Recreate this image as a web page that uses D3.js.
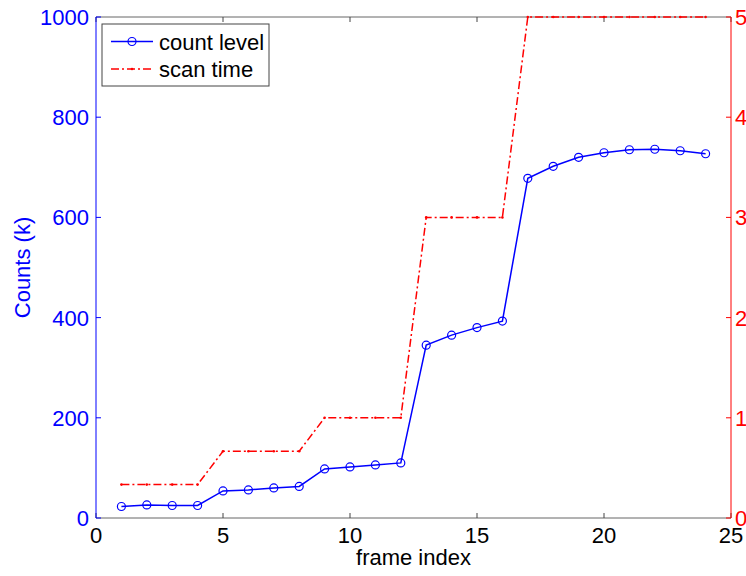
<!DOCTYPE html>
<html>
<head>
<meta charset="utf-8">
<script src="https://cdn.jsdelivr.net/npm/d3@7"></script>
<style>
  body { margin: 0; background: #fff; }
  text { font-family: "Liberation Sans", Arial, sans-serif; }
</style>
</head>
<body>
<script>
// data
var frames = d3.range(1, 25);
var countLevel = [23, 26, 25, 25, 54, 56, 60, 63, 98, 102, 106, 110,
                  345, 365, 380, 393, 678, 702, 720, 729, 735, 736, 733, 727];
var scanTime = [1/3, 1/3, 1/3, 1/3, 2/3, 2/3, 2/3, 2/3, 1, 1, 1, 1,
                3, 3, 3, 3, 5, 5, 5, 5, 5, 5, 5, 5];
var xTicks = [0, 5, 10, 15, 20, 25];
var leftTicks = [0, 200, 400, 600, 800, 1000];
var rightTicks = [0, 1, 2, 3, 4, 5];

var width = 746, height = 576;
var plotLeft = 96, plotRight = 731, plotTop = 17, plotBottom = 518;

var svg = d3.select("body")
    .append("svg")
    .attr("width", width)
    .attr("height", height)
    .attr("id", "drawhere");

var x = d3.scaleLinear().domain([0, 25]).range([plotLeft, plotRight]);
var yL = d3.scaleLinear().domain([0, 1000]).range([plotBottom, plotTop]);
var yR = d3.scaleLinear().domain([0, 5]).range([plotBottom, plotTop]);

// box lines (top + bottom in grey)
svg.append("line").attr("x1", plotLeft).attr("x2", plotRight).attr("y1", plotBottom).attr("y2", plotBottom)
    .style("stroke", "#666").style("stroke-width", 1);
svg.append("line").attr("x1", plotLeft).attr("x2", plotRight).attr("y1", plotTop).attr("y2", plotTop)
    .style("stroke", "#666").style("stroke-width", 1);

// x ticks, inward, bottom and top
xTicks.forEach(function(t) {
    svg.append("line").attr("x1", x(t)).attr("x2", x(t)).attr("y1", plotBottom).attr("y2", plotBottom - 5)
        .style("stroke", "#444");
    svg.append("line").attr("x1", x(t)).attr("x2", x(t)).attr("y1", plotTop).attr("y2", plotTop + 5)
        .style("stroke", "#444");
    svg.append("text").attr("x", x(t)).attr("y", plotBottom + 25)
        .attr("text-anchor", "middle").attr("font-size", "22px").attr("fill", "#000")
        .text(t);
});

// left axis
svg.append("line").attr("x1", plotLeft).attr("x2", plotLeft).attr("y1", plotTop).attr("y2", plotBottom)
    .style("stroke", "#0000ff").style("stroke-width", 1);
leftTicks.forEach(function(t) {
    svg.append("line").attr("x1", plotLeft).attr("x2", plotLeft + 5).attr("y1", yL(t)).attr("y2", yL(t))
        .style("stroke", "#0000ff");
    svg.append("text").attr("x", plotLeft - 7).attr("y", yL(t) + 8)
        .attr("text-anchor", "end").attr("font-size", "22px").attr("fill", "#0000ff")
        .text(t);
});

// right axis
svg.append("line").attr("x1", plotRight).attr("x2", plotRight).attr("y1", plotTop).attr("y2", plotBottom)
    .style("stroke", "#ff0000").style("stroke-width", 1);
rightTicks.forEach(function(t) {
    svg.append("line").attr("x1", plotRight).attr("x2", plotRight - 5).attr("y1", yR(t)).attr("y2", yR(t))
        .style("stroke", "#ff0000");
    svg.append("text").attr("x", plotRight + 4).attr("y", yR(t) + 8)
        .attr("text-anchor", "start").attr("font-size", "22px").attr("fill", "#ff0000")
        .text(t);
});

// axis titles
svg.append("text")
    .attr("transform", "translate(" + 30 + "," + ((plotTop + plotBottom) / 2) + ") rotate(-90)")
    .attr("text-anchor", "middle").attr("font-size", "22px").attr("fill", "#0000ff")
    .text("Counts (k)");
svg.append("text").attr("x", (plotLeft + plotRight) / 2).attr("y", 565)
    .attr("text-anchor", "middle").attr("font-size", "22px").attr("fill", "#000")
    .text("frame index");

// scan time (right axis)
var redLine = d3.line()
    .x(function(d, i) { return x(frames[i]); })
    .y(function(d) { return yR(d); });
svg.append("path")
    .datum(scanTime)
    .attr("d", redLine)
    .style("fill", "none")
    .style("stroke", "#ff0000")
    .style("stroke-width", 1.5)
    .style("stroke-dasharray", "8,3,2,3");
svg.selectAll(".reddot")
    .data(scanTime)
    .enter()
    .append("circle")
    .attr("class", "reddot")
    .attr("cx", function(d, i) { return x(frames[i]); })
    .attr("cy", function(d) { return yR(d); })
    .attr("r", 1.3)
    .style("fill", "#ff0000");

// count level (left axis)
var blueLine = d3.line()
    .x(function(d, i) { return x(frames[i]); })
    .y(function(d) { return yL(d); });
svg.append("path")
    .datum(countLevel)
    .attr("d", blueLine)
    .style("fill", "none")
    .style("stroke", "#0000ff")
    .style("stroke-width", 1.5);
svg.selectAll(".bluedot")
    .data(countLevel)
    .enter()
    .append("circle")
    .attr("class", "bluedot")
    .attr("cx", function(d, i) { return x(frames[i]); })
    .attr("cy", function(d) { return yL(d); })
    .attr("r", 4)
    .style("fill", "none")
    .style("stroke", "#0000ff")
    .style("stroke-width", 1.2);

// legend
var legend = svg.append("g");
legend.append("rect")
    .attr("x", 102).attr("y", 24).attr("width", 167).attr("height", 62)
    .style("fill", "#fff").style("stroke", "#444").style("stroke-width", 1);
legend.append("line").attr("x1", 111).attr("x2", 153).attr("y1", 41.5).attr("y2", 41.5)
    .style("stroke", "#0000ff").style("stroke-width", 1.5);
legend.append("circle").attr("cx", 132).attr("cy", 41.5).attr("r", 4)
    .style("fill", "none").style("stroke", "#0000ff").style("stroke-width", 1.2);
legend.append("text").attr("x", 159).attr("y", 49.5).attr("font-size", "22px").attr("fill", "#000")
    .text("count level");
legend.append("line").attr("x1", 111).attr("x2", 153).attr("y1", 69).attr("y2", 69)
    .style("stroke", "#ff0000").style("stroke-width", 1.5).style("stroke-dasharray", "8,3,2,3");
legend.append("circle").attr("cx", 132).attr("cy", 69).attr("r", 1.3).style("fill", "#ff0000");
legend.append("text").attr("x", 159).attr("y", 77).attr("font-size", "22px").attr("fill", "#000")
    .text("scan time");
</script>
</body>
</html>
